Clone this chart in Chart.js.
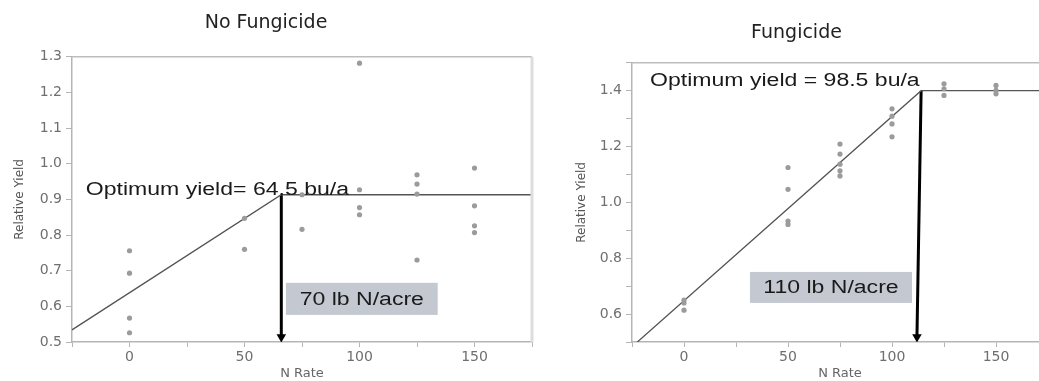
<!DOCTYPE html>
<html>
<head>
<meta charset="utf-8">
<script src="https://cdn.jsdelivr.net/npm/chart.js@4"></script>
<style>
    html, body { margin: 0; padding: 0; background: #fff; overflow: hidden; }
    .box { position: absolute; top: 0; height: 381px; }
</style>
</head>
<body>
<div class="box" style="left:0;width:545px"><canvas id="noFungChart"></canvas></div>
<div class="box" style="left:545px;width:520px"><canvas id="fungChart"></canvas></div>
<script>
// --- data ---
const noFungX = [0, 0, 0, 0, 50, 50, 75, 75, 100, 100, 100, 100, 125, 125, 125, 125, 150, 150, 150, 150];
const noFungY = [0.756, 0.693, 0.567, 0.526, 0.847, 0.760, 0.913, 0.816, 1.282, 0.927, 0.877, 0.857, 0.969, 0.943, 0.915, 0.730, 0.988, 0.882, 0.826, 0.807];
const fungX = [0, 0, 0, 50, 50, 50, 50, 75, 75, 75, 75, 75, 100, 100, 100, 100, 125, 125, 125, 150, 150, 150];
const fungY = [0.650, 0.640, 0.614, 1.125, 1.047, 0.933, 0.921, 1.209, 1.173, 1.137, 1.113, 1.095, 1.335, 1.309, 1.281, 1.235, 1.425, 1.407, 1.383, 1.419, 1.401, 1.389];

// linear-plateau fits
const noFungFitX = [-25, 66, 175];
const noFungFitY = [0.534, 0.913, 0.913];
const fungFitX = [-25, 114, 175];
const fungFitY = [0.483, 1.400, 1.400];

// arrows from the joint down to the axis
const noFungArrowX = [66, 66];
const noFungArrowY = [0.913, 0.514];
const fungArrowX = [114, 112];
const fungArrowY = [1.400, 0.518];

const xTicks = [0, 50, 100, 150];

const tickFont = { family: 'DejaVu Sans', size: 14 };
const titleFont = { family: 'DejaVu Sans', size: 19, weight: 'normal' };
const axisTitleFont = { family: 'DejaVu Sans', size: 12 };

const toPts = (xs, ys) => xs.map((v, i) => ({ x: v, y: ys[i] }));

// stretched annotation text, like the source image
function wideText(ctx, str, px, py, align) {
    ctx.save();
    ctx.translate(px, py);
    ctx.scale(1.28, 1);
    ctx.textAlign = align;
    ctx.textBaseline = 'middle';
    ctx.fillText(str, 0, 0);
    ctx.restore();
}

const notesPlugin = {
    id: 'notes',
    afterDatasetsDraw(chart, args, o) {
        const { ctx, chartArea: a, scales: { x, y } } = chart;
        ctx.save();
        // frame
        ctx.strokeStyle = '#bdbdbd';
        ctx.lineWidth = 1.5;
        ctx.beginPath();
        ctx.moveTo(a.left, a.top);
        ctx.lineTo(a.right, a.top);
        ctx.stroke();
        if (o.rightBorder) {
            ctx.strokeStyle = '#dddddd';
            ctx.lineWidth = 3;
            ctx.beginPath();
            ctx.moveTo(a.right, a.top);
            ctx.lineTo(a.right, a.bottom);
            ctx.stroke();
        }
        ctx.font = '18px "Liberation Sans"';
        ctx.fillStyle = '#1a1a1a';
        wideText(ctx, o.optText, x.getPixelForValue(o.optAt[0]), y.getPixelForValue(o.optAt[1]), 'left');

        const bx0 = x.getPixelForValue(o.box[0]), bx1 = x.getPixelForValue(o.box[2]);
        const by0 = y.getPixelForValue(o.box[1]), by1 = y.getPixelForValue(o.box[3]);
        ctx.fillStyle = '#c4c8d0';
        ctx.fillRect(bx0, by0, bx1 - bx0, by1 - by0);
        ctx.fillStyle = '#1a1a1a';
        wideText(ctx, o.boxText, (bx0 + bx1) / 2, (by0 + by1) / 2 + 1, 'center');
        ctx.restore();
    }
};

function makeChart(id, s) {
    new Chart(document.getElementById(id), {
        type: 'scatter',
        data: {
            datasets: [
                {
                    data: toPts(s.ptsX, s.ptsY),
                    backgroundColor: '#9b9b9b',
                    borderWidth: 0,
                    pointRadius: 2.6
                },
                {
                    data: toPts(s.fitX, s.fitY),
                    showLine: true,
                    borderColor: '#555555',
                    borderWidth: 1.3,
                    pointRadius: 0
                },
                {
                    data: toPts(s.arrowX, s.arrowY),
                    showLine: true,
                    borderColor: '#000',
                    backgroundColor: '#000',
                    borderWidth: 3,
                    pointStyle: 'triangle',
                    pointRotation: 180,
                    pointRadius: [0, 5.5],
                    pointBorderWidth: 0
                }
            ]
        },
        options: {
            responsive: true,
            maintainAspectRatio: false,
            animation: false,
            layout: { padding: { left: 0, right: s.padRight, top: 0, bottom: 0 } },
            plugins: {
                legend: { display: false },
                tooltip: { enabled: false },
                title: {
                    display: true,
                    text: s.title,
                    color: '#222',
                    font: titleFont,
                    padding: s.titlePad
                },
                notes: s.notes
            },
            scales: {
                x: {
                    type: 'linear',
                    min: -25,
                    max: 175,
                    afterFit: sc => { sc.height = 39; },
                    ticks: {
                        stepSize: 25,
                        color: '#6f6f6f',
                        font: tickFont,
                        padding: 2,
                        maxRotation: 0,
                        callback: v => xTicks.includes(v) ? String(v) : ''
                    },
                    grid: { drawOnChartArea: false, tickLength: 5, color: '#b5b5b5' },
                    border: { color: '#b5b5b5', width: 1.5 },
                    title: { display: true, text: 'N Rate', color: '#666', font: { family: 'DejaVu Sans', size: 13 }, padding: 0 }
                },
                y: {
                    min: s.yMin,
                    max: s.yMax,
                    afterFit: sc => { sc.width = s.yWidth; },
                    ticks: {
                        stepSize: 0.1,
                        color: '#6f6f6f',
                        font: tickFont,
                        padding: 4,
                        callback: s.yLabel
                    },
                    grid: { drawOnChartArea: false, tickLength: 6, color: '#b5b5b5' },
                    border: { color: '#b5b5b5', width: 1.5 },
                    title: { display: true, text: 'Relative Yield', color: '#555', font: axisTitleFont, padding: { top: s.yTitlePad, bottom: 0 } }
                }
            }
        },
        plugins: [notesPlugin]
    });
}

makeChart('noFungChart', {
    title: 'No Fungicide',
    titlePad: { top: 12, bottom: 22 },
    ptsX: noFungX, ptsY: noFungY,
    fitX: noFungFitX, fitY: noFungFitY,
    arrowX: noFungArrowX, arrowY: noFungArrowY,
    yMin: 0.5, yMax: 1.3,
    yWidth: 72, yTitlePad: 13, padRight: 13,
    yLabel: v => v.toFixed(1),
    notes: {
        rightBorder: true,
        optText: 'Optimum yield= 64.5 bu/a', optAt: [-19, 0.927],
        boxText: '70 lb N/acre', box: [68, 0.666, 134, 0.576]
    }
});

makeChart('fungChart', {
    title: 'Fungicide',
    titlePad: { top: 22, bottom: 18 },
    ptsX: fungX, ptsY: fungY,
    fitX: fungFitX, fitY: fungFitY,
    arrowX: fungArrowX, arrowY: fungArrowY,
    yMin: 0.5, yMax: 1.5,
    yWidth: 87, yTitlePad: 30, padRight: 17,
    yLabel: v => Math.round(v * 10) % 2 === 0 ? v.toFixed(1) : '',
    notes: {
        rightBorder: false,
        optText: 'Optimum yield = 98.5 bu/a', optAt: [-16.3, 1.436],
        boxText: '110 lb N/acre', box: [31.7, 0.751, 109.6, 0.640]
    }
});
</script>
</body>
</html>
